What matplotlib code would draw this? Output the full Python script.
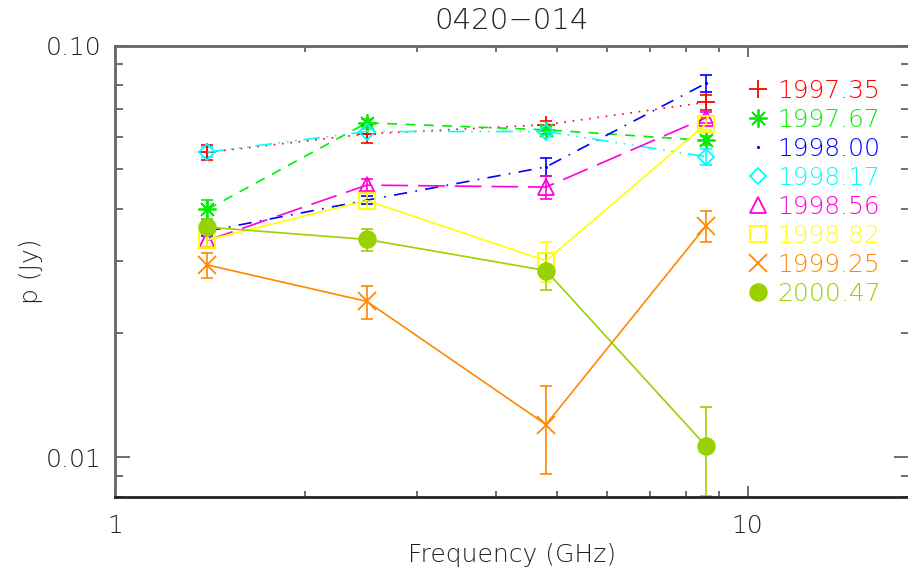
import matplotlib
matplotlib.use("Agg")
import matplotlib.pyplot as plt
from matplotlib.lines import Line2D
from matplotlib import font_manager

# pick a thin sans face if available
thin = None
for f in font_manager.fontManager.ttflist:
    if f.name == 'DejaVu Sans' and f.weight in (200, 'extra light', 'ultralight'):
        thin = ('DejaVu Sans', 200)
        break
if thin is None:
    thin = ('Roboto', 'normal')
FAM, WT = thin
plt.rcParams['font.family'] = [FAM, 'DejaVu Sans']

freqs = [1.4, 2.5, 4.8, 8.6]

epochs = ["1997.35", "1997.67", "1998.00", "1998.17", "1998.56", "1998.82", "1999.25", "2000.47"]

p_1997_35 = [0.0550, 0.0610, 0.0642, 0.0728]
e_1997_35 = [0.0023, 0.0030, 0.0015, 0.0030]
p_1997_67 = [0.0400, 0.0649, 0.0624, 0.0588]
e_1997_67 = [0.0021, 0.0015, 0.0014, 0.0014]
p_1998_00 = [0.0354, 0.0421, 0.0507, 0.0810]
e_1998_00 = [0.0010, 0.0010, 0.0025, 0.0038]
p_1998_17 = [0.0551, 0.0618, 0.0618, 0.0537]
e_1998_17 = [0.0015, 0.0010, 0.0012, 0.0025]
p_1998_56 = [0.0336, 0.0458, 0.0453, 0.0668]
e_1998_56 = [0.0012, 0.0016, 0.0030, 0.0020]
p_1998_82 = [0.0337, 0.0420, 0.0300, 0.0645]
e_1998_82 = [0.0012, 0.0019, 0.0034, 0.0020]
p_1999_25 = [0.0293, 0.0239, 0.0120, 0.0365]
e_1999_25 = [0.0020, 0.0022, 0.0029, 0.0031]
p_2000_47 = [0.0362, 0.0338, 0.0284, 0.01063]
e_2000_47 = [0.0012, 0.0021, 0.0030, 0.0026]

values = [p_1997_35, p_1997_67, p_1998_00, p_1998_17, p_1998_56, p_1998_82, p_1999_25, p_2000_47]
errors = [e_1997_35, e_1997_67, e_1998_00, e_1998_17, e_1998_56, e_1998_82, e_1999_25, e_2000_47]

colors = ['#FF0000', '#00F000', '#0000FF', '#00FFFF', '#FF00DC', '#FFFF00', '#FF8800', '#99D200']
markers = ['+', (8, 2, 0), '.', 'D', '^', 's', 'x', 'o']
msizes = [13, 13, 2, 8, 11, 12, 13, 12]
fills = [True, True, True, False, False, False, True, True]
linestyles = [(0, (1, 4)), (0, (6, 5)), (0, (8, 5, 1, 5)), (0, (10, 4, 1, 4, 1, 4, 1, 4)),
              (0, (16, 6)), '-', '-', '-']

fig = plt.figure(figsize=(9.08, 5.74), dpi=100)
ax = fig.add_axes([0.1267, 0.1341, 0.8745, 0.7866])
ax.set_xscale('log')
ax.set_yscale('log')

handles = []
for lab, v, e, c, m, ms, f, ls in zip(epochs, values, errors, colors, markers, msizes, fills, linestyles):
    ax.errorbar(freqs, v, yerr=e, color=c, ls='none', lw=1.2, capsize=4.5, capthick=1.2, zorder=2)
    ax.plot(freqs, v, color=c, ls=ls, lw=1.2, marker=m, ms=ms,
            mfc=c if f else 'none', mec=c, mew=1.3, zorder=3)
    handles.append(Line2D([], [], color=c, ls='none', marker=m, ms=ms if ms > 3 else 2,
                          mfc=c if f else 'none', mec=c, mew=1.3, label=lab))

ax.set_xlim(1, 18)
ax.set_ylim(0.008, 0.1)

ax.set_xticks([1, 10])
ax.set_xticklabels(['1', '10'])
ax.set_yticks([0.01, 0.1])
ax.set_yticklabels(['0.01', '0.10'])
ax.xaxis.set_minor_locator(matplotlib.ticker.LogLocator(base=10, subs=range(2, 10)))
ax.yaxis.set_minor_locator(matplotlib.ticker.LogLocator(base=10, subs=range(2, 10)))
ax.xaxis.set_minor_formatter(matplotlib.ticker.NullFormatter())
ax.yaxis.set_minor_formatter(matplotlib.ticker.NullFormatter())

ax.tick_params(axis='both', which='both', direction='in', top=True, right=True,
               colors='#555555', labelcolor='#222222', labelsize=18, width=1.2)
ax.tick_params(axis='x', which='major', length=8, pad=12)
ax.tick_params(axis='x', which='minor', length=4)
ax.tick_params(axis='y', which='major', length=11, pad=10)
ax.tick_params(axis='y', which='minor', length=6)

for s in ['left', 'top', 'bottom']:
    ax.spines[s].set_color('#666666')
    ax.spines[s].set_linewidth(2)
ax.spines['bottom'].set_color('#222222')
ax.spines['right'].set_visible(False)

for lbl in ax.get_xticklabels() + ax.get_yticklabels():
    lbl.set_fontweight(WT)

ax.set_title('0420\u2212014', fontsize=21, fontweight=WT, color='#222222', pad=12)
ax.set_xlabel('Frequency (GHz)', fontsize=18, fontweight=WT, color='#222222', labelpad=4)
ax.set_ylabel('p (Jy)', fontsize=18, fontweight=WT, color='#222222', labelpad=2)

leg = ax.legend(handles=handles, loc='upper left', bbox_to_anchor=(0.781, 0.948),
                frameon=False, handletextpad=0.3, handlelength=1.0, labelspacing=0.2,
                prop={'size': 18, 'weight': WT}, borderaxespad=0)
for t, c in zip(leg.get_texts(), colors):
    t.set_color(c)

fig.savefig('out.png', dpi=100)
